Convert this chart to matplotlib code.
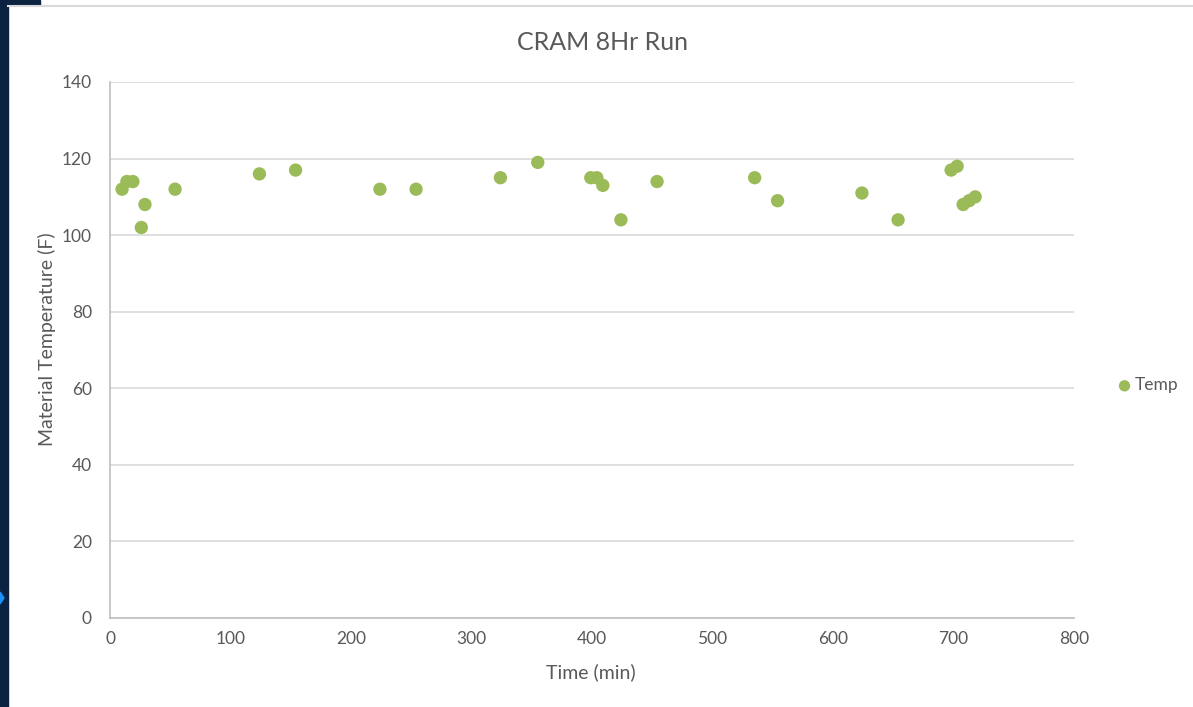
import matplotlib
matplotlib.use('Agg')
import matplotlib.pyplot as plt
from matplotlib.patches import Rectangle, Polygon
from matplotlib.lines import Line2D

plt.rcParams['font.family'] = ['Lato', 'DejaVu Sans']

# Temperature readings over the run
time_min = [10, 14, 19, 26, 29, 54, 124, 154, 224, 254, 324, 355, 399, 404, 409,
            424, 454, 535, 554, 624, 654, 698, 703, 708, 713, 718]
temp_f = [112, 114, 114, 102, 108, 112, 116, 117, 112, 112, 115, 119, 115, 115, 113,
          104, 114, 115, 109, 111, 104, 117, 118, 108, 109, 110]

x_ticks = [0, 100, 200, 300, 400, 500, 600, 700, 800]
y_ticks = [0, 20, 40, 60, 80, 100, 120, 140]

green = '#9bbb59'
text_grey = '#595959'
navy = '#0b2340'

fig = plt.figure(figsize=(11.93, 7.07), dpi=100)
W, H = 1193, 707

# window frame around the chart
fig.patches.append(Rectangle((0, 0), 8 / W, 1, transform=fig.transFigure,
                             color=navy, zorder=0))
fig.patches.append(Rectangle((0, 1 - 5 / H), 40 / W, 5 / H, transform=fig.transFigure,
                             color=navy, zorder=0))
fig.lines.append(Line2D([8 / W, 1], [1 - 5.5 / H, 1 - 5.5 / H], transform=fig.transFigure,
                        color='#d9d9d9', lw=1.5))
fig.patches.append(Polygon([(0, 1 - 592 / H), (4 / W, 1 - 598 / H), (0, 1 - 604 / H)],
                           closed=True, transform=fig.transFigure, color='#1e90ff'))

ax = fig.add_axes([110 / W, 1 - 618 / H, (1074 - 110) / W, (618 - 82) / H])
ax.scatter(time_min, temp_f, s=92, color=green, edgecolors='none', zorder=3, label='Temp')

ax.set_xlim(0, 800)
ax.set_ylim(0, 140)
ax.set_xticks(x_ticks)
ax.set_yticks(y_ticks)
ax.grid(axis='y', color='#d9d9d9', lw=1.2)
ax.set_axisbelow(True)
ax.tick_params(length=0, labelsize=12.5, labelcolor=text_grey, pad=9)
ax.tick_params(axis='y', pad=13)
for side in ['top', 'right']:
    ax.spines[side].set_visible(False)
for side in ['left', 'bottom']:
    ax.spines[side].set_color('#bfbfbf')
    ax.spines[side].set_linewidth(1.2)

fig.text(603 / W, 1 - 42 / H, 'CRAM 8Hr Run', fontsize=18, color=text_grey,
         ha='center', va='center')
ax.set_xlabel('Time (min)', fontsize=14, color=text_grey)
ax.set_ylabel('Material Temperature (F)', fontsize=14, color=text_grey)
ax.xaxis.set_label_coords(0.499, -0.101)
ax.yaxis.set_label_coords(-0.065, 0.52)
ax.xaxis.label.set_va('center')
ax.yaxis.label.set_va('center')

leg = ax.legend(loc='center left', bbox_to_anchor=(1.029, 0.434), frameon=False,
                fontsize=12.5, handlelength=0.8, handletextpad=0.2, markerscale=0.85)
for t in leg.get_texts():
    t.set_color(text_grey)

fig.savefig('out.png', dpi=100, facecolor='white')
